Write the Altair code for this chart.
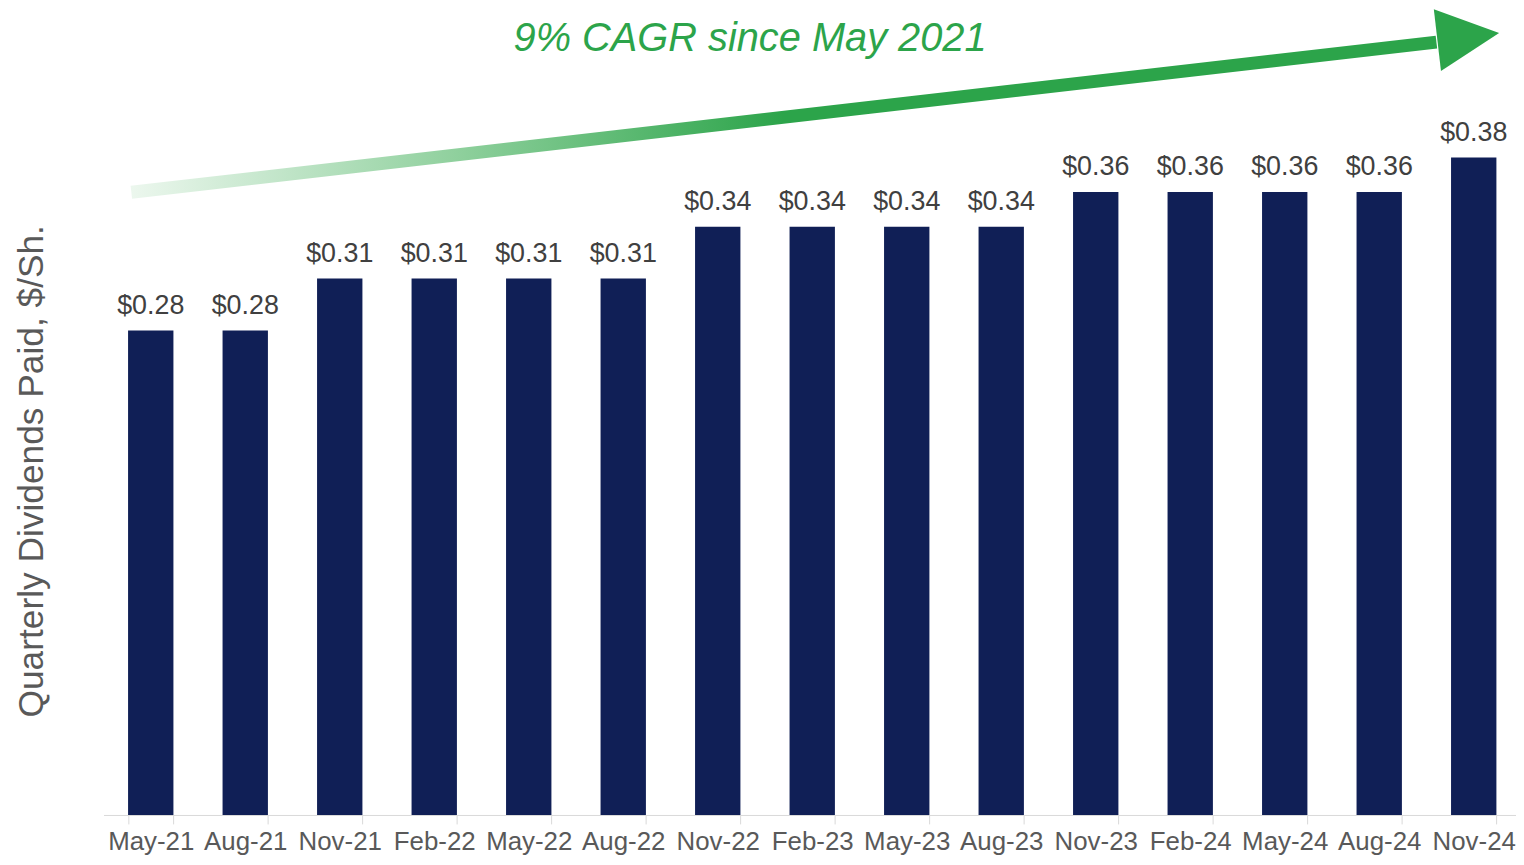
import altair as alt
import pandas as pd

quarters = ["May-21", "Aug-21", "Nov-21", "Feb-22", "May-22", "Aug-22", "Nov-22", "Feb-23",
            "May-23", "Aug-23", "Nov-23", "Feb-24", "May-24", "Aug-24", "Nov-24"]
dividends = [0.28, 0.28, 0.31, 0.31, 0.31, 0.31, 0.34, 0.34, 0.34, 0.34, 0.36, 0.36, 0.36, 0.36, 0.38]
y_title = "Quarterly Dividends Paid, $/Sh."
arrow_label = "9% CAGR since May 2021"

df = pd.DataFrame({"quarter": quarters, "value": dividends})
one = pd.DataFrame({"k": [0]})

FONT = "Liberation Sans"
NAVY = "#101f56"
GREEN = "#2ca44a"

x_enc = alt.X("quarter:N", sort=quarters,
              scale=alt.Scale(paddingInner=0.52, paddingOuter=0.26),
              axis=alt.Axis(title=None, labelAngle=0, labelFontSize=26, labelFont=FONT,
                            labelColor="#595959", labelPadding=5, tickBand="extent",
                            tickSize=9, tickColor="#d9d9d9", domainColor="#d9d9d9",
                            labelBaseline="top"))
y_enc = alt.Y("value:Q", scale=alt.Scale(domain=[0, 0.4651], nice=False),
              axis=alt.Axis(title=y_title, labels=False, ticks=False, domain=False, grid=False,
                            titleFontSize=35.5, titleFont=FONT, titleColor="#595959",
                            titleFontWeight="normal", titleAngle=270, titleX=-72, titleY=463,
                            titleAlign="center", titleBaseline="middle"))

bars = alt.Chart(df).mark_bar(color=NAVY).encode(x=x_enc, y=y_enc)
labels = alt.Chart(df).mark_text(dy=-17, baseline="alphabetic", fontSize=27, font=FONT,
                                 color="#404040").encode(
    x=alt.X("quarter:N", sort=quarters), y="value:Q",
    text=alt.Text("value:Q", format="$.2f"))

grad = alt.LinearGradient(gradient="linear", x1=0, y1=0, x2=1, y2=0,
                          stops=[alt.GradientStop(color="#ecf7ee", offset=0),
                                 alt.GradientStop(color="#8fd09d", offset=0.25),
                                 alt.GradientStop(color=GREEN, offset=0.5),
                                 alt.GradientStop(color=GREEN, offset=1)])
shaft = alt.Chart(one).mark_rule(stroke=grad, strokeWidth=13, strokeCap="butt").encode(
    x=alt.value(28), y=alt.value(183), x2=alt.value(1340), y2=alt.value(32))
head = alt.Chart(one).mark_point(shape="M -1 -1 L 1 0 L -1 1 Z", size=3900, filled=True,
                                 color=GREEN, opacity=1, angle=353.4, strokeWidth=0).encode(
    x=alt.value(1372), y=alt.value(26.5))
title_txt = alt.Chart(one).mark_text(text=arrow_label, fontSize=40, font=FONT, fontStyle="italic",
                                     color=GREEN, align="center", baseline="middle").encode(
    x=alt.value(650), y=alt.value(29))

chart = alt.layer(bars, labels, shaft, head, title_txt).properties(
    width=1425, height=809, autosize=alt.AutoSizeParams(type="none"),
    padding={"left": 96, "top": 0, "right": -5, "bottom": 40},
    background="white"
).configure_view(strokeWidth=0, stroke=None)

chart.save("out.html", embed_options={"renderer": "svg", "actions": False})
